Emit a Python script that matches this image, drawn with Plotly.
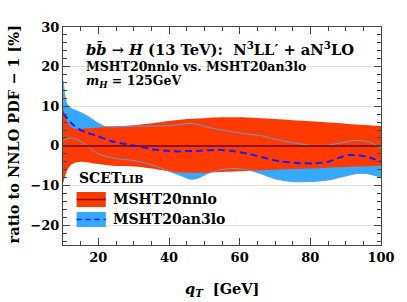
import plotly.graph_objects as go

# ---- data ----
q_nnlo = [10, 10.5, 11, 12, 13, 15, 18, 22, 26, 30, 35, 40, 45, 50, 55, 60, 70, 80, 90, 100]
nnlo_up = [9.5, 8.0, 6.6, 5.0, 4.4, 4.3, 4.5, 4.8, 5.0, 5.2, 5.7, 6.3, 6.8, 7.0, 7.2, 7.2, 6.8, 6.2, 5.6, 5.0]
nnlo_lo = [-9.5, -8.0, -6.5, -5.0, -4.4, -4.0, -4.3, -4.8, -5.1, -5.2, -5.7, -6.4, -6.8, -6.8, -6.6, -6.4, -6.0, -5.7, -5.3, -5.0]
nnlo_c = [0.0] * len(q_nnlo)

q_an3 = [10, 10.5, 11, 12, 14, 16, 18, 20, 22, 25, 30, 35, 40, 44, 46, 48, 52, 57, 62, 66, 70, 75, 80, 85, 90, 93, 96, 98, 100]
an3_up = [16.5, 13.0, 10.8, 9.6, 8.8, 8.0, 6.9, 5.7, 4.9, 4.8, 5.0, 5.0, 5.1, 5.5, 5.7, 5.4, 4.5, 3.7, 3.0, 2.6, 1.7, 0.8, 0.2, 0.2, 1.0, 1.4, 1.1, 0.4, -0.6]
an3_lo = [1.2, 1.6, 1.9, 2.0, 1.6, 0.6, -0.8, -2.0, -2.6, -3.2, -3.7, -4.7, -6.4, -7.7, -8.4, -8.2, -6.6, -5.7, -6.0, -7.0, -8.3, -9.0, -9.0, -8.6, -7.6, -7.0, -7.0, -7.4, -8.0]

q_an3_c = [10, 12.4, 15, 20, 24, 30, 35, 40, 43, 49, 54, 58, 62, 67, 72, 76, 81, 85, 88, 91, 94, 97, 100]
an3_c = [8.3, 5.7, 4.0, 2.4, 1.1, 0.1, -0.8, -1.3, -1.4, -1.2, -1.0, -1.3, -1.9, -3.0, -4.0, -4.3, -4.4, -4.0, -3.0, -2.3, -2.4, -3.0, -4.0]

x_ticks = [20, 40, 60, 80, 100]
y_ticks = [-20, -10, 0, 10, 20, 30]

RED = "#FF3A00"
BLUE = "#35A9FF"
EDGE = "#5AA2D6"
DARKRED = "#8E1400"
DASH = "#1A1AFF"
FONT = "DejaVu Serif"

fig = go.Figure()
sp = dict(shape="spline", smoothing=0.8)

# blue band (behind)
fig.add_trace(go.Scatter(x=q_an3, y=an3_lo, mode="lines", line=dict(width=0, **sp), showlegend=False, hoverinfo="skip"))
fig.add_trace(go.Scatter(x=q_an3, y=an3_up, mode="lines", line=dict(width=0, **sp), fill="tonexty", fillcolor=BLUE, showlegend=False, hoverinfo="skip"))
# red band
fig.add_trace(go.Scatter(x=q_nnlo, y=nnlo_lo, mode="lines", line=dict(width=0, **sp), showlegend=False, hoverinfo="skip"))
fig.add_trace(go.Scatter(x=q_nnlo, y=nnlo_up, mode="lines", line=dict(width=0, **sp), fill="tonexty", fillcolor=RED, showlegend=False, hoverinfo="skip"))
# blue band edges
fig.add_trace(go.Scatter(x=q_an3, y=an3_up, mode="lines", line=dict(width=1, color=EDGE, **sp), showlegend=False))
fig.add_trace(go.Scatter(x=q_an3, y=an3_lo, mode="lines", line=dict(width=1, color=EDGE, **sp), showlegend=False))
# central lines
fig.add_trace(go.Scatter(x=q_nnlo, y=nnlo_c, mode="lines", line=dict(width=2, color=DARKRED), showlegend=False))
fig.add_trace(go.Scatter(x=q_an3_c, y=an3_c, mode="lines", line=dict(width=2, color=DASH, dash="7px,4px", **sp), showlegend=False))

# plot area: x 63..390, y 27..245
W, H = 407, 302
L, R, T, B = 63, 17, 27, 57
pw, ph = W - L - R, H - T - B

def px(xp):
    return (xp - L) / pw

def py(yp):
    return 1 - (yp - T) / ph

def txt(x, y, s, size, anchor="left", angle=0):
    return dict(x=px(x), y=py(y), xref="paper", yref="paper", xanchor=anchor, yanchor="middle",
                showarrow=False, text=s, textangle=angle,
                font=dict(family=FONT, size=size, color="black", weight="bold"))

ann = [
    txt(85, 48, "<i>b</i><i>b̄</i> → <i>H</i> (13 TeV):  N<sup>3</sup>LL′ + aN<sup>3</sup>LO", 14.7),
    txt(85, 66, "MSHT20nnlo vs. MSHT20an3lo", 12.5),
    txt(85, 82, "<i>m<sub>H</sub></i> = 125GeV", 12.5),
    txt(77, 178, "SCET<span style='font-size:11px'>LIB</span>", 14),
    txt(112, 199, "MSHT20nnlo", 14),
    txt(112, 219, "MSHT20an3lo", 14),
    txt(12, 134, "ratio to NNLO PDF − 1 [%]", 14.5, anchor="center", angle=-90),
    txt(226, 289, "<i>q<sub>T</sub></i>  [GeV]", 14.5, anchor="center"),
]

shapes = [
    dict(type="rect", xref="paper", yref="paper", x0=px(77), x1=px(107), y0=py(207), y1=py(192),
         fillcolor=RED, line=dict(width=0), layer="above"),
    dict(type="line", xref="paper", yref="paper", x0=px(77), x1=px(107), y0=py(199.5), y1=py(199.5),
         line=dict(color=DARKRED, width=1.5), layer="above"),
    dict(type="rect", xref="paper", yref="paper", x0=px(77), x1=px(107), y0=py(227), y1=py(212),
         fillcolor=BLUE, line=dict(width=0), layer="above"),
    dict(type="line", xref="paper", yref="paper", x0=px(77), x1=px(107), y0=py(219.5), y1=py(219.5),
         line=dict(color=DASH, width=1.5, dash="5px,4px"), layer="above"),
]

axis_common = dict(ticks="inside", ticklen=7, tickcolor="#444", tickwidth=1,
                   showline=True, linecolor="#444", linewidth=1, mirror="ticks", zeroline=False,
                   tickfont=dict(family=FONT, size=13, color="black", weight="bold"))

fig.update_layout(
    width=W, height=H,
    margin=dict(l=L, r=R, t=T, b=B),
    paper_bgcolor="white", plot_bgcolor="white",
    showlegend=False,
    annotations=ann, shapes=shapes,
    xaxis=dict(range=[10, 100], tickvals=x_ticks, showgrid=False,
               minor=dict(dtick=5, tick0=0, ticks="inside", ticklen=4, tickcolor="#444", showgrid=False),
               **axis_common),
    yaxis=dict(range=[-25, 30], tickvals=y_ticks, showgrid=True, gridcolor="#e2e2e2", gridwidth=1,
               minor=dict(dtick=2, tick0=0, ticks="inside", ticklen=4, tickcolor="#444", showgrid=False),
               **axis_common),
)

fig.write_html("out.html", config={"displayModeBar": False},
               post_script="document.body.style.margin='0';document.body.style.overflow='hidden';")
